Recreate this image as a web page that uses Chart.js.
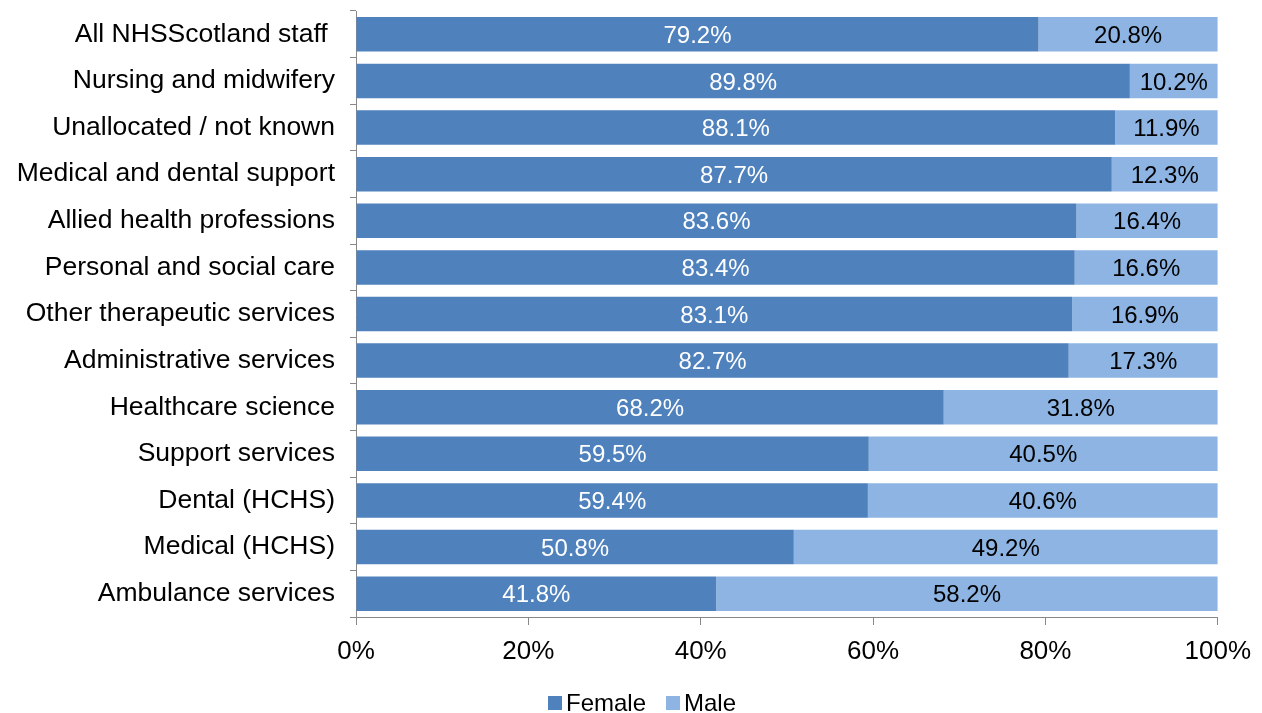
<!DOCTYPE html>
<html>
<head>
<meta charset="utf-8">
<script src="https://cdn.jsdelivr.net/npm/chart.js@4/dist/chart.umd.min.js"></script>
<style>
  html, body { margin: 0; padding: 0; background: #fff; }
  #wrap { width: 1262px; height: 713px; position: relative; }
</style>
</head>
<body>
<div id="wrap"><canvas id="chart"></canvas></div>
<script>
const categories = [
    'All NHSScotland staff ', 'Nursing and midwifery', 'Unallocated / not known',
    'Medical and dental support', 'Allied health professions', 'Personal and social care',
    'Other therapeutic services', 'Administrative services', 'Healthcare science',
    'Support services', 'Dental (HCHS)', 'Medical (HCHS)', 'Ambulance services'
];
const female = [79.2, 89.8, 88.1, 87.7, 83.6, 83.4, 83.1, 82.7, 68.2, 59.5, 59.4, 50.8, 41.8];
const male = [20.8, 10.2, 11.9, 12.3, 16.4, 16.6, 16.9, 17.3, 31.8, 40.5, 40.6, 49.2, 58.2];
const xTicks = [0, 20, 40, 60, 80, 100];

const FONT = '"Liberation Sans", Arial, sans-serif';
const FEMALE_COLOR = '#4F81BD';
const MALE_COLOR = '#8DB4E2';

// value labels inside each bar segment
const barLabels = {
    id: 'barLabels',
    afterDatasetsDraw(chart) {
        const ctx = chart.ctx;
        ctx.save();
        ctx.font = '24px ' + FONT;
        ctx.textAlign = 'center';
        ctx.textBaseline = 'middle';
        chart.data.datasets.forEach((ds, di) => {
            const meta = chart.getDatasetMeta(di);
            ctx.fillStyle = di === 0 ? '#ffffff' : '#000000';
            meta.data.forEach((bar, i) => {
                const x = (bar.x + bar.base) / 2;
                ctx.fillText(ds.data[i].toFixed(1) + '%', x, bar.y + 2);
            });
        });
        ctx.restore();
    }
};

// simple legend under the axis
const bottomLegend = {
    id: 'bottomLegend',
    afterDraw(chart) {
        const ctx = chart.ctx;
        ctx.save();
        ctx.font = '24px ' + FONT;
        ctx.textBaseline = 'middle';
        const y = 703;
        const items = chart.data.datasets.map(ds => ({ label: ds.label, color: ds.backgroundColor }));
        const box = 14, gap = 4, between = 20;
        let x = 548;
        items.forEach(it => {
            ctx.fillStyle = it.color;
            ctx.fillRect(x, y - box / 2, box, box);
            x += box + gap;
            ctx.fillStyle = '#000';
            ctx.fillText(it.label, x, y + 1);
            x += ctx.measureText(it.label).width + between;
        });
        ctx.restore();
    }
};

new Chart(document.getElementById('chart'), {
    type: 'bar',
    data: {
        labels: categories,
        datasets: [
            { label: 'Female', data: female, backgroundColor: FEMALE_COLOR },
            { label: 'Male', data: male, backgroundColor: MALE_COLOR }
        ]
    },
    options: {
        indexAxis: 'y',
        responsive: true,
        maintainAspectRatio: false,
        animation: false,
        layout: { padding: { top: 11, right: 44, left: 0, bottom: 0 } },
        datasets: { bar: { categoryPercentage: 1, barPercentage: 0.74 } },
        scales: {
            x: {
                stacked: true,
                min: 0,
                max: 100,
                afterBuildTicks: scale => { scale.ticks = xTicks.map(v => ({ value: v })); },
                afterFit: scale => { scale.height = 96; },
                border: { color: '#888888', width: 1 },
                grid: { drawOnChartArea: false, drawTicks: true, tickLength: 8, color: '#888888' },
                ticks: {
                    color: '#000',
                    font: { family: FONT, size: 26 },
                    padding: 11,
                    maxRotation: 0,
                    callback: v => v + '%'
                }
            },
            y: {
                stacked: true,
                afterFit: scale => {
                    scale.width = 356;
                    scale.paddingTop = 0;
                    scale.paddingBottom = 0;
                },
                border: { color: '#888888', width: 1 },
                grid: { drawOnChartArea: false, drawTicks: true, tickLength: 6, color: '#888888', offset: true },
                ticks: {
                    color: '#000',
                    font: { family: FONT, size: 26.5 },
                    padding: 15,
                    autoSkip: false
                }
            }
        },
        plugins: {
            legend: { display: false },
            tooltip: { enabled: false }
        }
    },
    plugins: [barLabels, bottomLegend]
});
</script>
</body>
</html>
